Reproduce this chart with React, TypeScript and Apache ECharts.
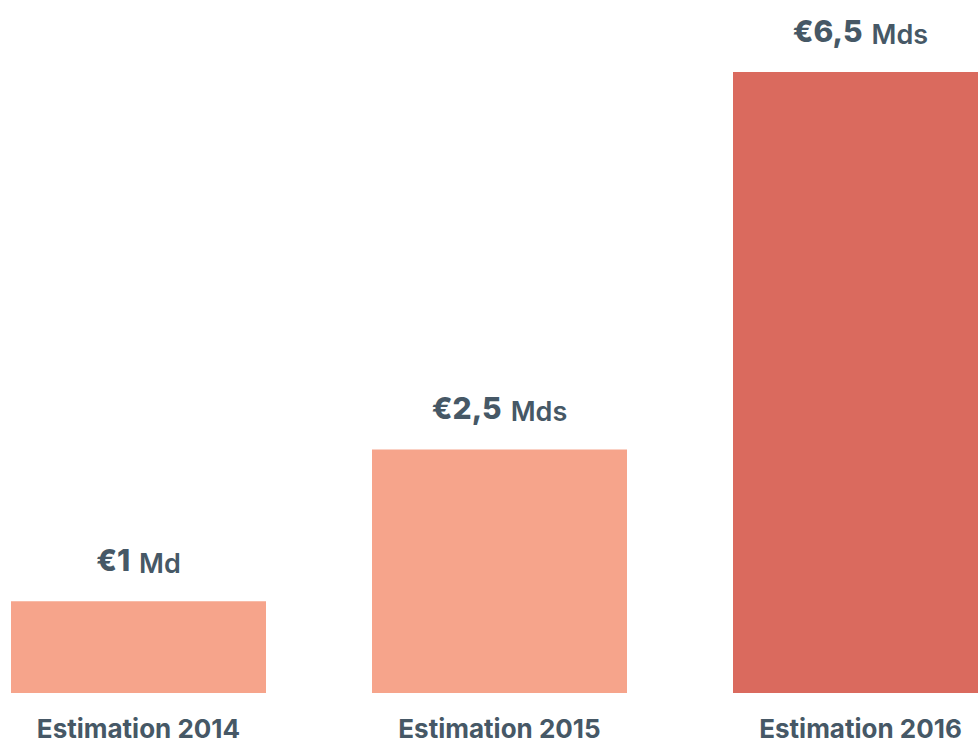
import React, { useEffect, useRef } from "react";
import * as echarts from "echarts";

const categories = ["Estimation 2014", "Estimation 2015", "Estimation 2016"];
// bar heights (billions of euros)
const barValues = [0.96, 2.55, 6.5];
const amountLabels = ["€1", "€2,5", "€6,5"];
const unitLabels = ["Md", "Mds", "Mds"];
const barColors = ["#f6a48b", "#f6a48b", "#da6a5e"];

const TEXT = "#465866";
const FONT = "Inter, 'Noto Sans', sans-serif";

export default function App() {
  const ref = useRef<HTMLDivElement>(null);
  useEffect(() => {
    if (!ref.current) return;
    const chart = echarts.init(ref.current, undefined, { renderer: "svg" });
    chart.setOption({
      animation: false,
      backgroundColor: "#ffffff",
      grid: { left: 0, right: 0, top: 72, bottom: 49, containLabel: false },
      xAxis: {
        type: "category",
        data: categories,
        axisLine: { show: false },
        axisTick: { show: false },
        axisLabel: {
          color: TEXT,
          fontFamily: FONT,
          fontWeight: 700,
          fontSize: 26,
          lineHeight: 26,
          margin: 22,
        },
      },
      yAxis: {
        type: "value",
        min: 0,
        max: 6.5,
        show: false,
        splitLine: { show: false },
      },
      series: [
        {
          type: "bar",
          barWidth: 255,
          data: barValues.map((v, i) => ({
            value: v,
            itemStyle: { color: barColors[i] },
          })),
          label: {
            show: true,
            position: "top",
            distance: 22,
            formatter: (p: any) =>
              `{a|${amountLabels[p.dataIndex]}}{b|${unitLabels[p.dataIndex]}}`,
            rich: {
              a: {
                color: TEXT,
                fontFamily: FONT,
                fontWeight: 800,
                fontSize: 30,
                lineHeight: 38,
              },
              b: {
                color: TEXT,
                fontFamily: FONT,
                fontWeight: 600,
                fontSize: 27,
                padding: [6, 0, 0, 9],
              },
            },
          },
        },
      ],
    });
    return () => chart.dispose();
  }, []);
  return (
    <div
      style={{
        position: "absolute",
        left: 0,
        top: 0,
        width: 978,
        height: 742,
        overflow: "hidden",
        background: "#ffffff",
      }}
    >
      <div
        ref={ref}
        style={{ position: "absolute", left: -42, top: 0, width: 1083, height: 742 }}
      />
    </div>
  );
}
